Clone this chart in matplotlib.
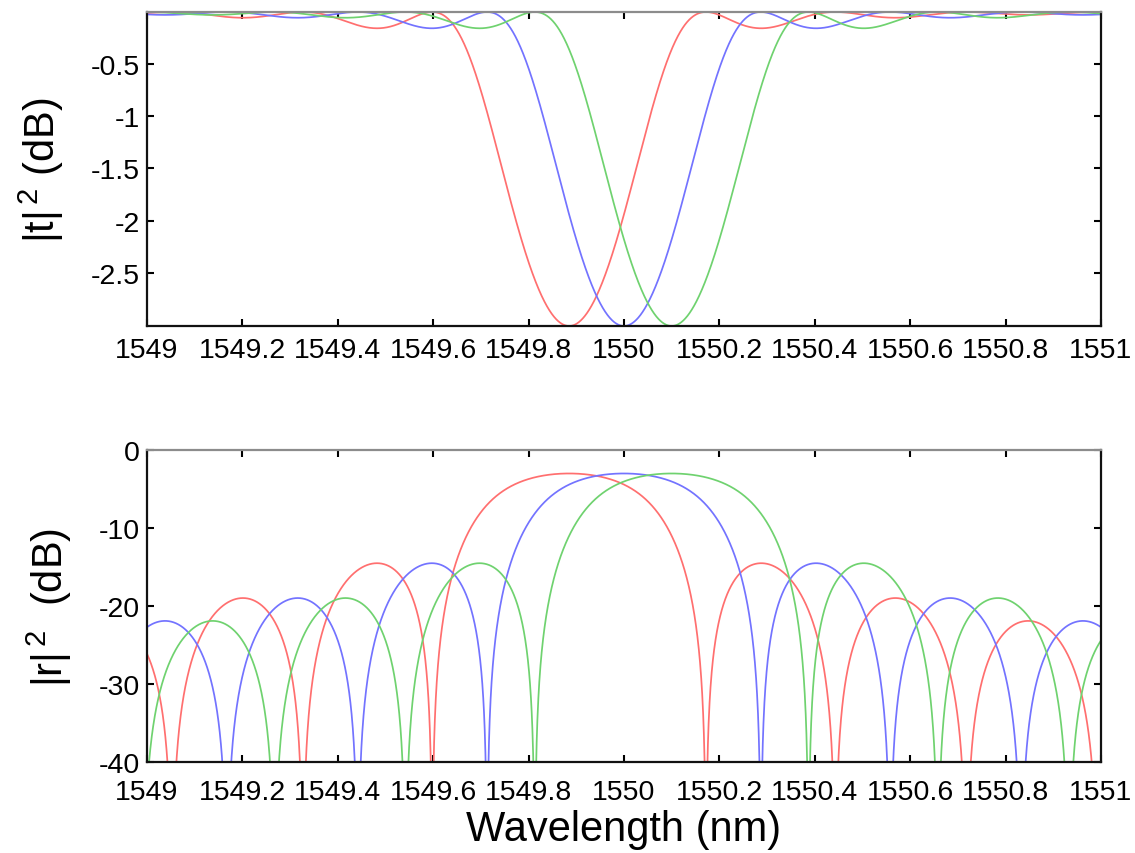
import numpy as np
import matplotlib
matplotlib.use("Agg")
from matplotlib import pyplot as plt
from matplotlib.ticker import FormatStrFormatter

# grating parameters
centers_nm = [1549.885, 1550.0, 1550.1]        # Bragg wavelengths (red, blue, green)
peak_refl_db = -3.01                            # peak |r|^2, also the dip of |t|^2
first_null_nm = 0.287                           # offset centre -> first zero of |r|^2
colors = ["#ff6f6f", "#7373ff", "#6fd26f"]

wl_start, wl_stop = 1549.0, 1551.0
x_ticks = [1549, 1549.2, 1549.4, 1549.6, 1549.8, 1550, 1550.2, 1550.4, 1550.6, 1550.8, 1551]
t_ticks = [-2.5, -2, -1.5, -1, -0.5]
r_ticks = [-40, -30, -20, -10, 0]

plt.rcParams["font.family"] = ["Liberation Sans", "DejaVu Sans"]
plt.rcParams["mathtext.fontset"] = "custom"
plt.rcParams["mathtext.rm"] = "Liberation Sans"
plt.rcParams["mathtext.default"] = "regular"
plt.rcParams["axes.unicode_minus"] = False


def uniform_grating(wl, center):
    # coupled-mode result for a uniform grating, scaled by the values above
    kl = np.arctanh(np.sqrt(10 ** (peak_refl_db / 10)))
    dl = np.sqrt(np.pi ** 2 + kl ** 2) * (wl - center) / first_null_nm
    s2 = kl ** 2 - dl ** 2
    s = np.sqrt(s2.astype(complex))
    r = -1j * kl * np.sinh(s) / (s * np.cosh(s) + 1j * dl * np.sinh(s))
    return np.abs(r) ** 2


wl = np.linspace(wl_start, wl_stop, 4001)
refl = [uniform_grating(wl, c) for c in centers_nm]

fig = plt.figure(figsize=(11.35, 8.54), dpi=100)
ax_t = fig.add_axes([0.1295, 0.6171, 0.8405, 0.3677])
ax_r = fig.add_axes([0.1295, 0.1066, 0.8405, 0.3653])

t_min = 0
for R, col in zip(refl, colors):
    t_db = 10 * np.log10(1 - R)
    r_db = 10 * np.log10(np.maximum(R, 1e-12))
    ax_t.plot(wl, t_db, color=col, lw=1.25)
    ax_r.plot(wl, r_db, color=col, lw=1.25)
    t_min = min(t_min, t_db.min())

ax_t.set_ylim(t_min, 0)
ax_t.set_yticks(t_ticks)
ax_r.set_ylim(-40, 0)
ax_r.set_yticks(r_ticks)

for ax in (ax_t, ax_r):
    ax.set_xlim(wl_start, wl_stop)
    ax.set_xticks(x_ticks)
    ax.xaxis.set_major_formatter(FormatStrFormatter("%g"))
    ax.yaxis.set_major_formatter(FormatStrFormatter("%g"))
    ax.tick_params(direction="in", top=True, right=True, length=5, width=1.5,
                   labelsize=20.5)
    ax.tick_params(axis="y", pad=5)
    for side in ("left", "bottom", "right"):
        ax.spines[side].set_linewidth(1.6)
        ax.spines[side].set_color("#111111")
    ax.spines["top"].set_linewidth(1.6)
    ax.spines["top"].set_color("#8c8c8c")

ax_t.tick_params(axis="x", pad=8)
ax_r.tick_params(axis="x", pad=12)

ax_t.set_ylabel("|t|$^{\\,2}$ (dB)", fontsize=30, labelpad=18)
ax_r.set_ylabel("|r|$^{\\,2}$  (dB)", fontsize=30, labelpad=18)
ax_r.set_xlabel("Wavelength (nm)", fontsize=30, labelpad=3)

fig.savefig("out.png", dpi=100)
